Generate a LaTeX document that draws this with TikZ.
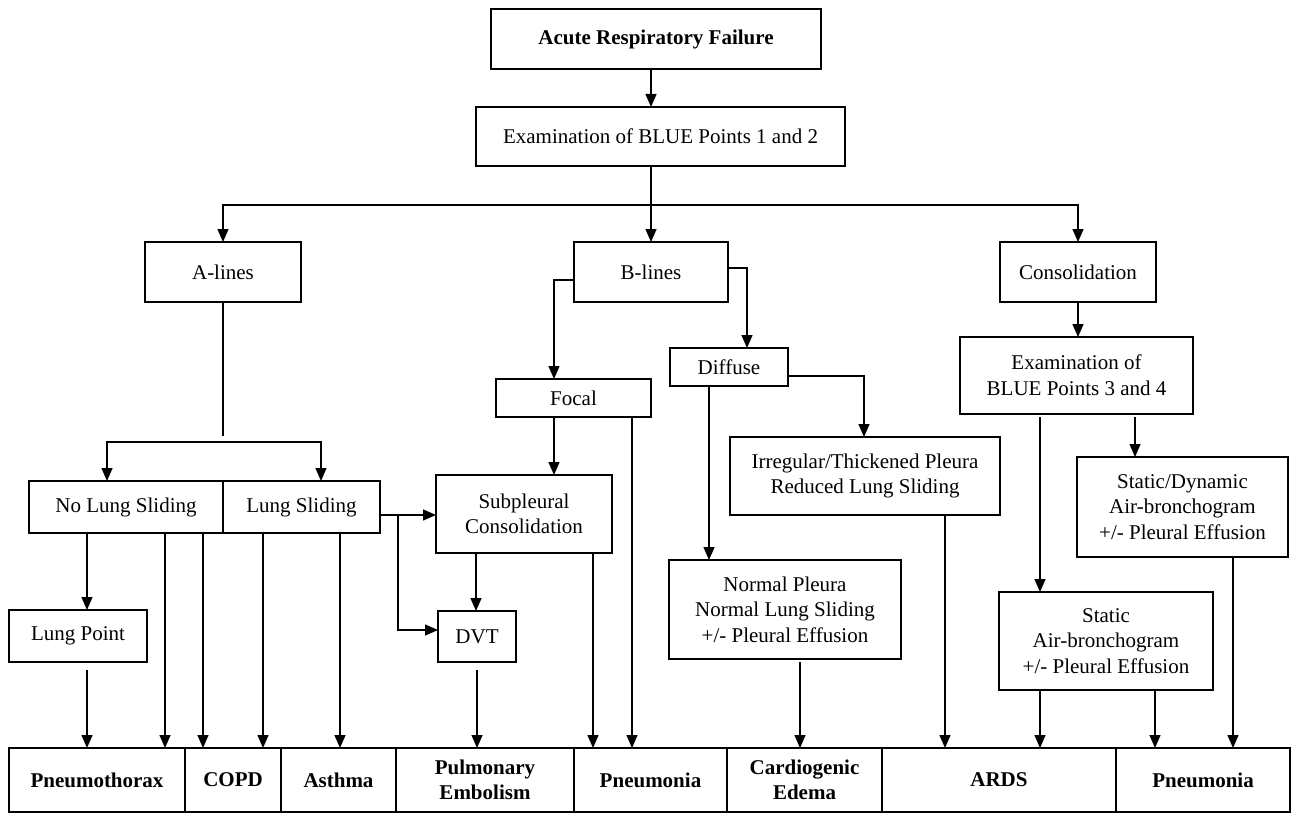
\documentclass[tikz,border=0pt]{standalone}
\usepackage{fontspec}
\setmainfont{Liberation Serif}
\usetikzlibrary{arrows.meta}
\usetikzlibrary{positioning}

\tikzset{
    box/.style={draw, line width=0.9pt, align=center, inner sep=2pt, outer sep=0pt, font=\fontsize{10.5}{12.8}\selectfont},
    cell/.style={box, minimum height=32pt, font=\bfseries\fontsize{10.5}{12.8}\selectfont},
    arr/.style={line width=0.7pt, -{Triangle[length=6.5pt,width=5.5pt]}},
    link/.style={line width=0.7pt},
}

\begin{document}
\begin{tikzpicture}[x=0.5pt, y=-0.5pt]
    \useasboundingbox (0,0) rectangle (1291,813);

    \node[box, font=\bfseries\fontsize{10.5}{12.8}\selectfont, minimum width=165pt, minimum height=30pt] (arf) at (656,39) {Acute Respiratory Failure};
    \node[box, minimum width=184.5pt, minimum height=29.5pt] (exam1) at (660.5,136.5) {Examination of BLUE Points 1 and 2};

    \node[box, minimum width=78pt, minimum height=30pt] (alines) at (223,272) {A-lines};
    \node[box, minimum width=77pt, minimum height=30pt] (blines) at (651,272) {B-lines};
    \node[box, minimum width=78pt, minimum height=30pt] (consol) at (1078,272) {Consolidation};

    \node[box, minimum width=77.5pt, minimum height=19pt] (focal) at (573.5,398) {Focal};
    \node[box, minimum width=59pt, minimum height=19pt] (diffuse) at (729,367) {Diffuse};
    \node[box, minimum width=116.5pt, minimum height=38.5pt] (exam2) at (1076.5,375.5) {Examination of\\BLUE Points 3 and 4};

    \node[box, minimum width=97pt, minimum height=26pt] (nls) at (126,507) {No Lung Sliding};
    \node[box, minimum width=78.5pt, minimum height=26pt, right=0pt of nls] (ls) {Lung Sliding};
    \node[box, minimum width=88pt, minimum height=39pt] (subp) at (524,514) {Subpleural\\Consolidation};
    \node[box, minimum width=135pt, minimum height=39pt] (irr) at (865,476) {Irregular/Thickened Pleura\\Reduced Lung Sliding};
    \node[box, minimum width=105.5pt, minimum height=50pt] (sdyn) at (1182.5,507) {Static/Dynamic\\Air-bronchogram\\+/- Pleural Effusion};

    \node[box, minimum width=69pt, minimum height=26pt] (lp) at (78,636) {Lung Point};
    \node[box, minimum width=39pt, minimum height=25.5pt] (dvt) at (477,636.5) {DVT};
    \node[box, minimum width=116pt, minimum height=49.5pt] (np) at (785,609.5) {Normal Pleura\\Normal Lung Sliding\\+/- Pleural Effusion};
    \node[box, minimum width=107pt, minimum height=49pt] (stat) at (1106,641) {Static\\Air-bronchogram\\+/- Pleural Effusion};

    % diagnoses
    \node[cell, minimum width=88pt] (pnx) at (97,780) {Pneumothorax};
    \node[cell, minimum width=48pt, right=0pt of pnx] (copd) {COPD};
    \node[cell, minimum width=57.5pt, right=0pt of copd] (asthma) {Asthma};
    \node[cell, minimum width=89pt, right=0pt of asthma] (pe) {Pulmonary\\Embolism};
    \node[cell, minimum width=76.5pt, right=0pt of pe] (pn1) {Pneumonia};
    \node[cell, minimum width=77.5pt, right=0pt of pn1] (ce) {Cardiogenic\\Edema};
    \node[cell, minimum width=117pt, right=0pt of ce] (ards) {ARDS};
    \node[cell, minimum width=87pt, right=0pt of ards] (pn2) {Pneumonia};

    \draw[arr] (arf.south -| blines) -- (exam1.north -| blines);
    \draw[arr] (exam1.south -| blines) -- (blines.north);
    \coordinate (split) at (651,205);
    \draw[arr] (split) -| (alines.north);
    \draw[arr] (split) -| (consol.north);

    % A-lines
    \coordinate (fork) at (223,442);
    \draw[link] (alines.south) -- ([yshift=3pt]fork);
    \draw[arr] (fork) -| ([xshift=-9.5pt]nls.north);
    \draw[arr] (fork) -| ([xshift=9.75pt]ls.north);
    \draw[arr] ([xshift=-19.5pt]nls.south) -- ([xshift=-19.5pt]nls.south |- lp.north);
    \draw[arr] ([xshift=4.5pt,yshift=-4pt]lp.south) -- ([xshift=4.5pt]lp.south |- pnx.north);
    \draw[arr] ([xshift=19.5pt]nls.south) -- ([xshift=19.5pt]nls.south |- pnx.north);
    \draw[arr] ([xshift=38.5pt]nls.south) -- ([xshift=38.5pt]nls.south |- copd.north);
    \draw[arr] ([xshift=-19.25pt]ls.south) -- ([xshift=-19.25pt]ls.south |- copd.north);
    \draw[arr] ([xshift=19.25pt]ls.south) -- ([xshift=19.25pt]ls.south |- asthma.north);
    \draw[arr] ([yshift=-4pt]ls.east) -- ([yshift=-4pt]ls.east -| subp.west);
    \draw[arr] ([xshift=9pt,yshift=-4pt]ls.east) |- ([yshift=3.25pt]dvt.west);

    % B-lines
    \draw[arr] ([yshift=-4pt]blines.west) -| ([xshift=-9.75pt]focal.north);
    \draw[arr] ([yshift=2pt]blines.east) -| ([xshift=9pt]diffuse.north);
    \draw[arr] ([xshift=-9.75pt]focal.south) -- ([xshift=-9.75pt]focal.south |- subp.north);
    \draw[arr] ([xshift=29.25pt]focal.south) -- ([xshift=29.25pt]focal.south |- pn1.north);
    \draw[arr] ([xshift=-24pt]subp.south) -- ([xshift=-24pt]subp.south |- dvt.north);
    \draw[arr] ([xshift=34.5pt]subp.south) -- ([xshift=34.5pt]subp.south |- pn1.north);
    \draw[arr] ([yshift=-4pt]dvt.south) -- (dvt.south |- pe.north);
    \draw[arr] ([yshift=-4.5pt]diffuse.east) -| ([xshift=-0.5pt]irr.north);
    \draw[arr] ([xshift=-10pt]diffuse.south) -- ([xshift=-10pt]diffuse.south |- np.north);
    \draw[arr] ([xshift=7.5pt,yshift=-1.5pt]np.south) -- ([xshift=7.5pt]np.south |- ce.north);
    \draw[arr] ([xshift=40pt]irr.south) -- ([xshift=40pt]irr.south |- ards.north);

    % consolidation
    \draw[arr] (consol.south) -- (consol.south |- exam2.north);
    \draw[arr] ([xshift=-18.25pt,yshift=-1.5pt]exam2.south) -- ([xshift=-18.25pt]exam2.south |- stat.north);
    \draw[arr] ([xshift=29.25pt,yshift=-1.5pt]exam2.south) -- ([xshift=29.25pt]exam2.south |- sdyn.north);
    \draw[arr] ([xshift=-33pt]stat.south) -- ([xshift=-33pt]stat.south |- ards.north);
    \draw[arr] ([xshift=24.5pt]stat.south) -- ([xshift=24.5pt]stat.south |- pn2.north);
    \draw[arr] ([xshift=25.25pt]sdyn.south) -- ([xshift=25.25pt]sdyn.south |- pn2.north);
\end{tikzpicture}
\end{document}
